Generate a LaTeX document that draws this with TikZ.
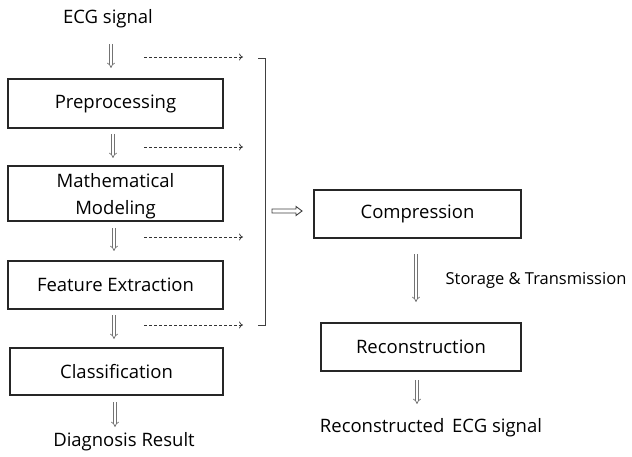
\documentclass[tikz,border=0pt]{standalone}
\usepackage{fontspec}
\setmainfont{Open Sans}
\usetikzlibrary{arrows.meta,calc}
\begin{document}
\begin{tikzpicture}[x=1pt,y=-1pt,
  box/.style={draw=black!85, line width=1.3pt, inner sep=0pt, font=\fontsize{18.5}{27}\selectfont, align=center},
  lbl/.style={inner sep=0pt, font=\fontsize{18.5}{20}\selectfont},
  hol/.style={draw=black!55, double=white, double distance=2pt, line width=0.7pt, -{Implies[length=3pt]}},
  holh/.style={draw=black!75, fill=white, line width=0.9pt, line join=miter},
  dsh/.style={draw=black!80, line width=0.7pt, dash pattern=on 3pt off 2pt, -{To[length=4pt,width=7pt]}},
  brk/.style={draw=black!75, line width=0.9pt}]
\useasboundingbox (0,0) rectangle (632,457);
\node[lbl] (ecg) at (108,19) {ECG signal};
\node[box, minimum width=215pt, minimum height=49pt] (pre) at (115.5,103.5) {\raisebox{-2pt}{Preprocessing}};
\node[box, minimum width=215pt, minimum height=55pt] (mm) at (115.5,193.5) {};
\node[lbl, align=center, font=\fontsize{18.5}{27}\selectfont] (mmt) at (115.5,196) {Mathematical\\Modeling};
\node[box, minimum width=215pt, minimum height=48pt] (fe) at (115.5,285) {\raisebox{-2pt}{Feature Extraction}};
\node[box, minimum width=213pt, minimum height=47pt] (cl) at (116.5,371.5) {\raisebox{-2pt}{Classification}};
\node[lbl] (dr) at (124,442) {Diagnosis Result};
\node[box, minimum width=207pt, minimum height=48pt] (co) at (417.5,214) {\raisebox{-2pt}{Compression}};
\node[box, minimum width=200pt, minimum height=48pt] (re) at (421,347) {\raisebox{-2pt}{Reconstruction}};
\node[lbl] (rs) at (431,428) {Reconstructed\hspace{3pt} ECG signal};
\node[inner sep=0pt, font=\fontsize{16.5}{18}\selectfont] (st) at (536,280) {Storage \& Transmission};
% hollow arrows
\draw[hol] (111,44) -- (111,68);
\draw[hol] (113,134) -- (113,158);
\draw[hol] (114,228) -- (114,251);
\draw[hol] (114,315) -- (114,339);
\draw[hol] (115,402) -- (115,427);
\draw[hol] (416,254) -- (416,302);
\draw[hol] (417,380) -- (417,404);
\coordinate (ha) at (272,211); \coordinate (hb) at (302,211);
\draw[holh] ($(ha)+(0,-2)$) -- ($(hb)+(-6,-2)$) -- ($(hb)+(-6,-4.5)$) -- (hb) -- ($(hb)+(-6,4.5)$) -- ($(hb)+(-6,2)$) -- ($(ha)+(0,2)$) -- cycle;
% dashed arrows
\coordinate (d1a) at (144,57); \coordinate (d1b) at (243,57);
\coordinate (d2a) at (144,147); \coordinate (d2b) at (243,147);
\coordinate (d3a) at (144,237); \coordinate (d3b) at (243,237);
\coordinate (d4a) at (144,325); \coordinate (d4b) at (243,325);
\draw[dsh] (d1a) -- (d1b);
\draw[dsh] (d2a) -- (d2b);
\draw[dsh] (d3a) -- (d3b);
\draw[dsh] (d4a) -- (d4b);
% bracket
\coordinate (bt) at (258,58); \coordinate (bb) at (258,325);
\draw[brk] (bt) -- (265,58) -- (265,325) -- (bb);
\end{tikzpicture}
\end{document}
